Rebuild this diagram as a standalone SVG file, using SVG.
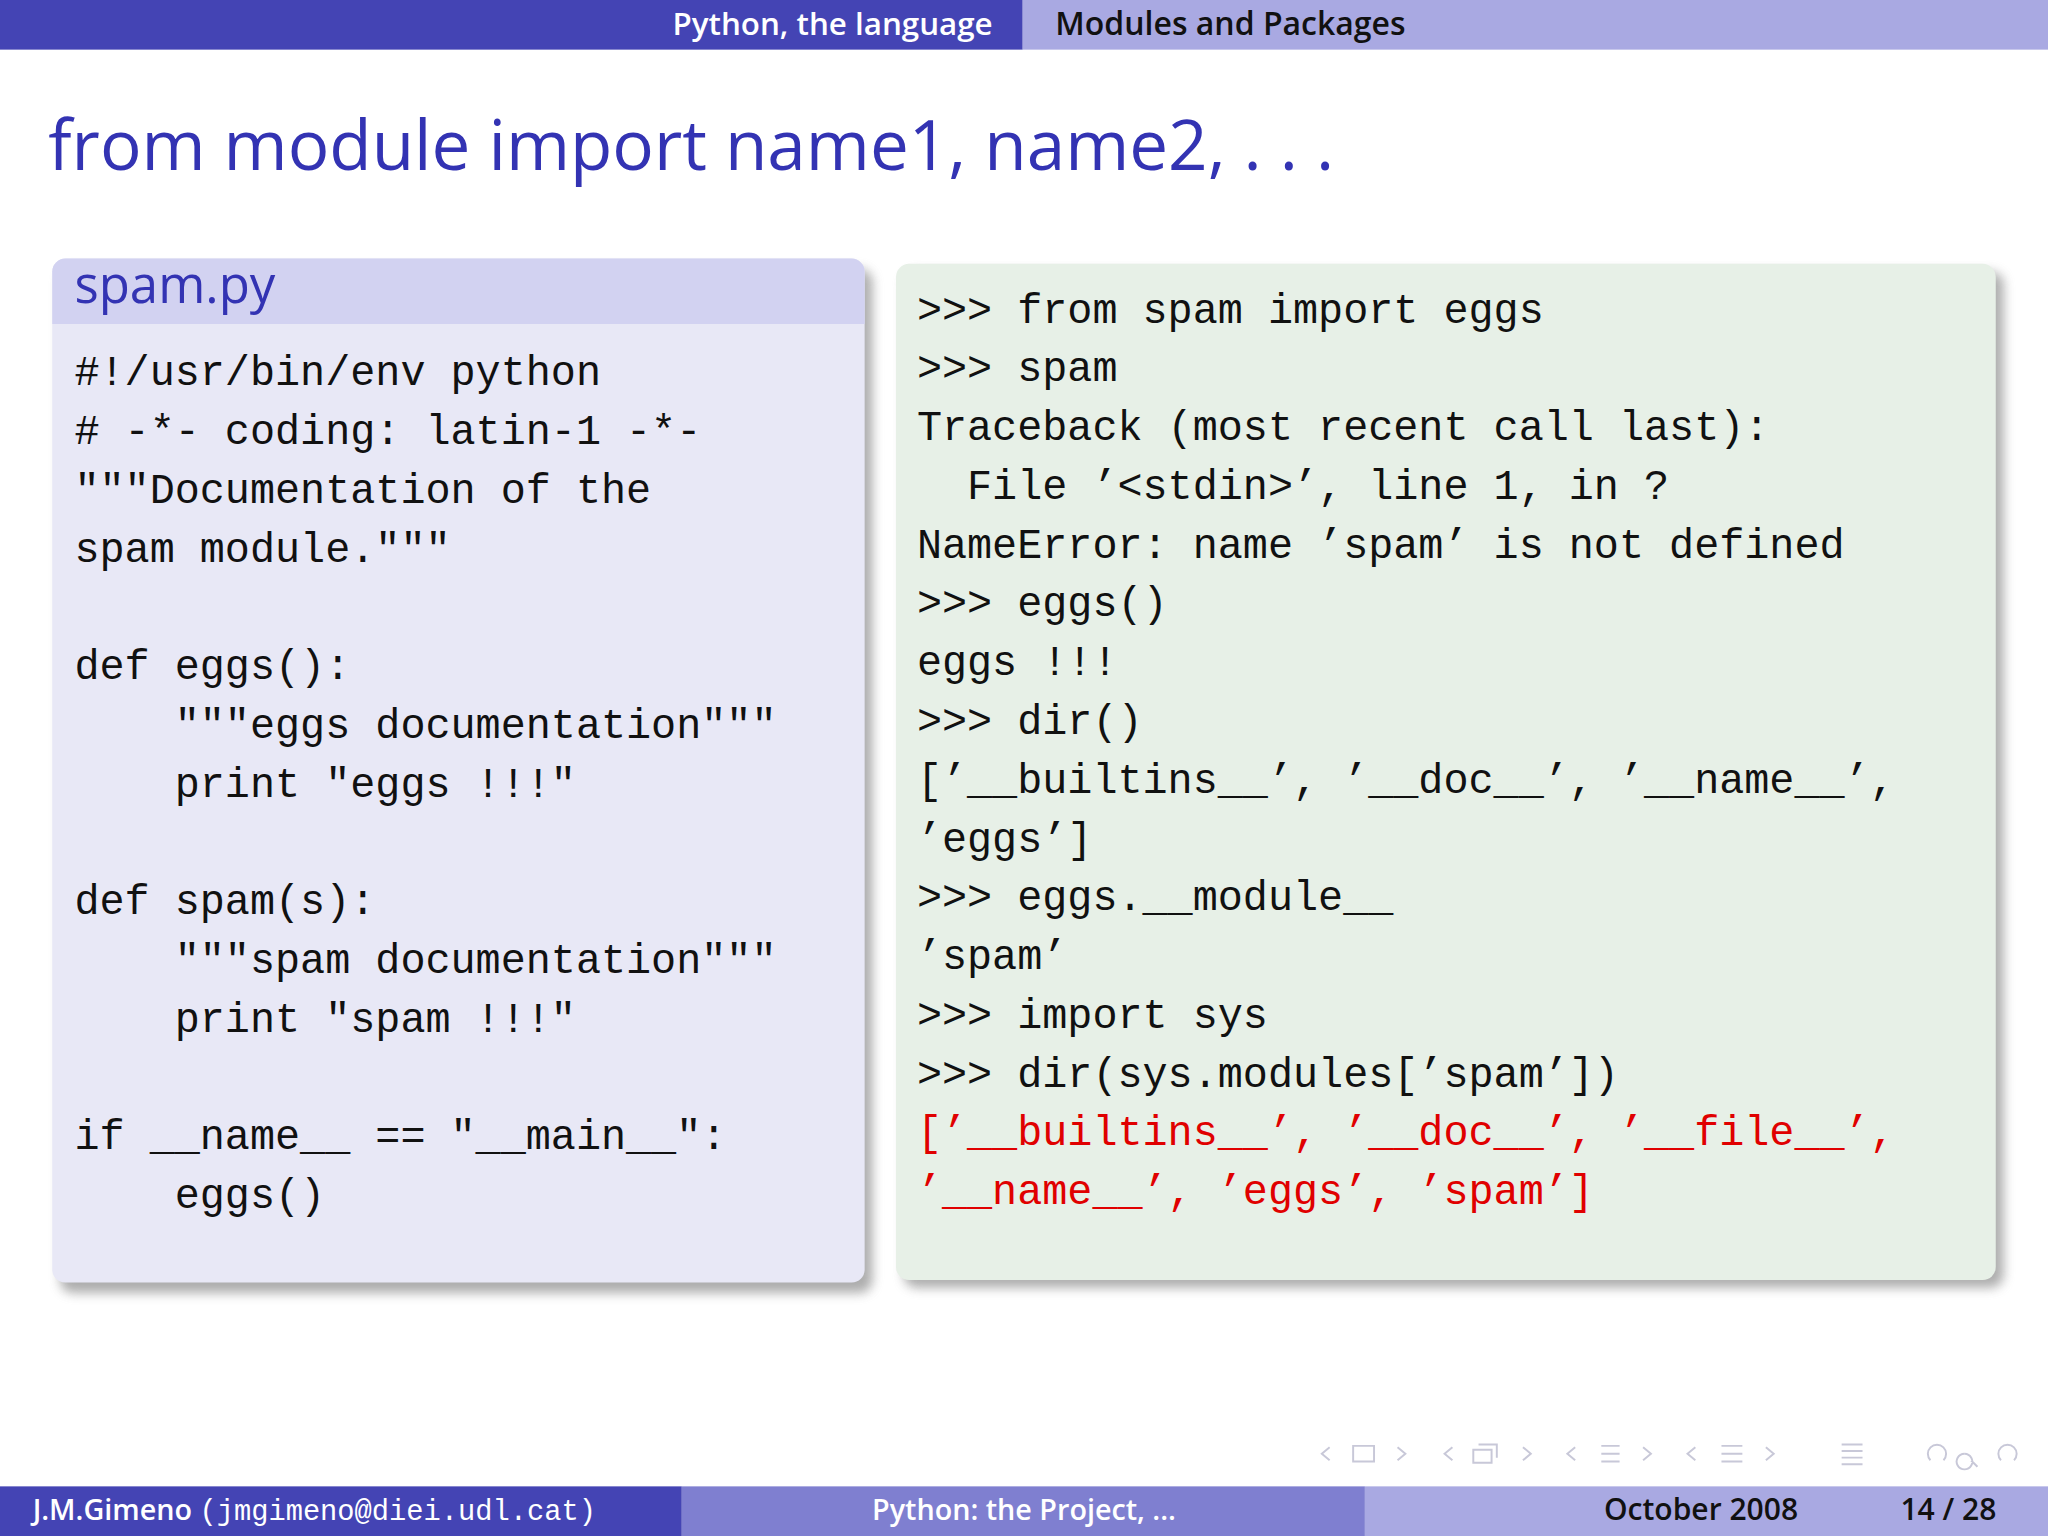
<svg xmlns="http://www.w3.org/2000/svg" width="2048" height="1536" viewBox="0 0 2048 1536">
<defs>
<style>
.code{font-family:"Liberation Mono","DejaVu Sans Mono",monospace;font-size:32px;fill:#111;white-space:pre}
.red{fill:#e00000}
.sans{font-family:"Open Sans","DejaVu Sans",sans-serif}
.nav{fill:none;stroke:#c8c8d8;stroke-width:1.5}
</style>
<filter id="sh" x="-5%" y="-5%" width="115%" height="115%"><feGaussianBlur stdDeviation="4"/></filter>
</defs>
<rect width="2048" height="1536" fill="#fff"/>
<g transform="scale(1.30612)">
<g id="topbar">
<rect x="0" y="0" width="783" height="38" fill="#4444b4"/>
<rect x="783" y="0" width="785" height="38" fill="#a9a9e2"/>
<text x="760" y="27" text-anchor="end" class="sans" font-size="24" font-weight="600" fill="#fff">Python, the language</text>
<text x="808" y="27" class="sans" font-size="24.5" font-weight="600" fill="#111">Modules and Packages</text>
</g>
<text id="title" x="37" y="130" class="sans" font-size="53" fill="#3333b3">from module import name1, name2, . . .</text>
<g id="spam-box">
<rect x="46" y="206" width="622" height="784" rx="10" fill="#777" opacity="0.6" filter="url(#sh)"/>
<rect x="40" y="198" width="622" height="784" rx="10" fill="#e8e8f6"/>
<path d="M40 248 V208 a10 10 0 0 1 10 -10 H652 a10 10 0 0 1 10 10 V248 Z" fill="#d2d2f1"/>
<text x="57" y="232" class="sans" font-size="39" fill="#3333b3">spam.py</text>
<text class="code" x="57" y="295">#!/usr/bin/env python</text>
<text class="code" x="57" y="340"># -*- coding: latin-1 -*-</text>
<text class="code" x="57" y="385">"""Documentation of the</text>
<text class="code" x="57" y="430">spam module."""</text>
<text class="code" x="57" y="520">def eggs():</text>
<text class="code" x="57" y="565">    """eggs documentation"""</text>
<text class="code" x="57" y="610">    print "eggs !!!"</text>
<text class="code" x="57" y="700">def spam(s):</text>
<text class="code" x="57" y="745">    """spam documentation"""</text>
<text class="code" x="57" y="790">    print "spam !!!"</text>
<text class="code" x="57" y="880">if __name__ == "__main__":</text>
<text class="code" x="57" y="925">    eggs()</text>
</g>
<g id="session-box">
<rect x="692" y="208" width="842" height="778" rx="10" fill="#777" opacity="0.6" filter="url(#sh)"/>
<rect x="686" y="202" width="842" height="778" rx="10" fill="#e7f0e7"/>
<text class="code" x="702" y="247">&gt;&gt;&gt; from spam import eggs</text>
<text class="code" x="702" y="292">&gt;&gt;&gt; spam</text>
<text class="code" x="702" y="337">Traceback (most recent call last):</text>
<text class="code" x="702" y="382">  File ’&lt;stdin&gt;’, line 1, in ?</text>
<text class="code" x="702" y="427">NameError: name ’spam’ is not defined</text>
<text class="code" x="702" y="472">&gt;&gt;&gt; eggs()</text>
<text class="code" x="702" y="517">eggs !!!</text>
<text class="code" x="702" y="562">&gt;&gt;&gt; dir()</text>
<text class="code" x="702" y="607">[’__builtins__’, ’__doc__’, ’__name__’,</text>
<text class="code" x="702" y="652">’eggs’]</text>
<text class="code" x="702" y="697">&gt;&gt;&gt; eggs.__module__</text>
<text class="code" x="702" y="742">’spam’</text>
<text class="code" x="702" y="787">&gt;&gt;&gt; import sys</text>
<text class="code" x="702" y="832">&gt;&gt;&gt; dir(sys.modules[’spam’])</text>
<text class="code red" x="702" y="877">[’__builtins__’, ’__doc__’, ’__file__’,</text>
<text class="code red" x="702" y="922">’__name__’, ’eggs’, ’spam’]</text>
</g>
<g id="nav">
<path class="nav" d="M1018 1108 l-6 5 6 5 M1036 1107 h16 v12 h-16 z M1070 1108 l6 5 -6 5 M1112 1108 l-6 5 6 5 M1128 1110 h14 v10 h-14 z M1132 1106 h14 v10 M1166 1108 l6 5 -6 5 M1206 1108 l-6 5 6 5 M1226 1107 h14 M1226 1113 h14 M1226 1119 h14 M1258 1108 l6 5 -6 5 M1298 1108 l-6 5 6 5 M1318 1107 h16 M1318 1113 h16 M1318 1119 h16 M1352 1108 l6 5 -6 5 M1410 1106 h16 M1410 1111 h16 M1410 1116 h16 M1410 1121 h16 M1478 1118 a7 7 0 1 1 10 0 M1504 1113 a6 6 0 1 0 0.1 0 M1509 1118 l5 5 M1532 1118 a7 7 0 1 1 10 0"/>
</g>
<g id="bottombar">
<rect x="0" y="1138" width="522" height="38" fill="#4444b4"/>
<rect x="522" y="1138" width="523" height="38" fill="#7f7fd0"/>
<rect x="1045" y="1138" width="523" height="38" fill="#a9a9e2"/>
<text x="25" y="1164" class="sans" font-size="22" font-weight="600" fill="#fff">J.M.Gimeno <tspan font-family="Liberation Mono,monospace" font-weight="400" font-size="22">(jmgimeno@diei.udl.cat)</tspan></text>
<text x="784" y="1164" text-anchor="middle" class="sans" font-size="22" font-weight="600" fill="#fff">Python: the Project, ...</text>
<text x="1228" y="1164" class="sans" font-size="23" font-weight="600" fill="#111">October 2008</text>
<text x="1455" y="1164" class="sans" font-size="23" font-weight="600" fill="#111">14 / 28</text>
</g>
</g>
</svg>
